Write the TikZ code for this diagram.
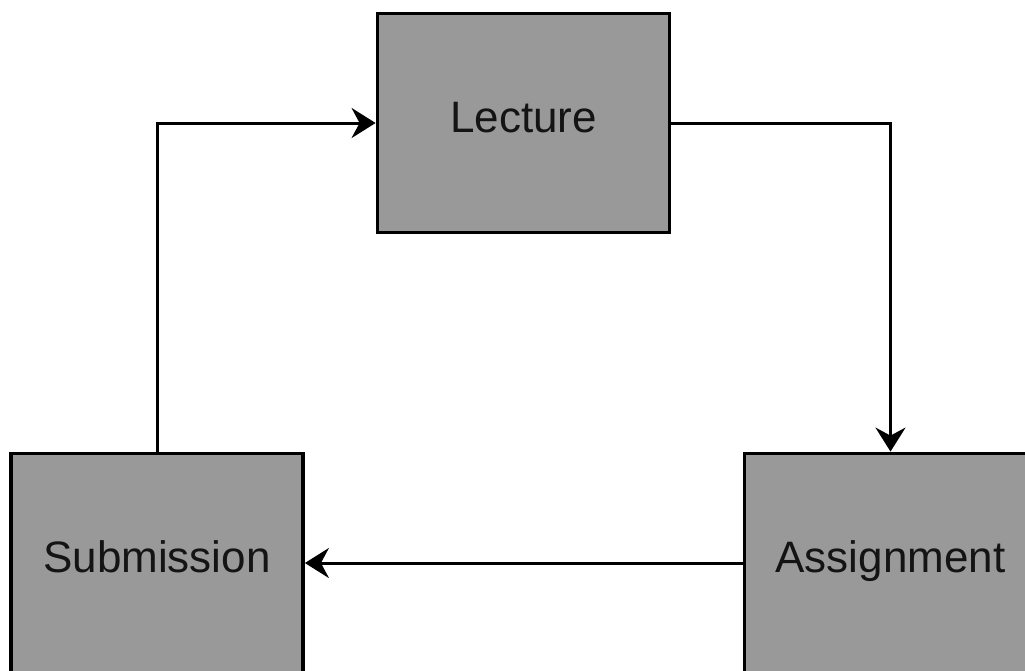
\documentclass[tikz,border=0pt]{standalone}
\usepackage{fontspec}
\setmainfont{Liberation Sans}
\usetikzlibrary{arrows.meta}
\tikzset{
  stage/.style={draw=black, line width=3.8pt, fill=black!40,
    minimum width=292pt, minimum height=219pt, inner sep=0pt,
    text height=32pt, text depth=13.5pt,
    font=\fontsize{44}{52}\selectfont, text=black!92},
  flow/.style={line width=3pt, -{Stealth[length=24pt, width=30pt, inset=8pt]}}
}
\begin{document}
\begin{tikzpicture}[x=1pt, y=-1pt]
  \useasboundingbox (0,0) rectangle (1025,670);
  \clip (0,0) rectangle (1025,670);
  \node[stage] (lec) at (523.5,123) {Lecture};
  \node[stage] (sub) at (157,563) {Submission};
  \node[stage] (asg) at (890.5,563) {Assignment};
  \draw[flow] (lec.east) -| (asg.north);
  \draw[flow] (asg.west) -- (sub.east);
  \draw[flow] (sub.north) |- (lec.west);
\end{tikzpicture}
\end{document}
